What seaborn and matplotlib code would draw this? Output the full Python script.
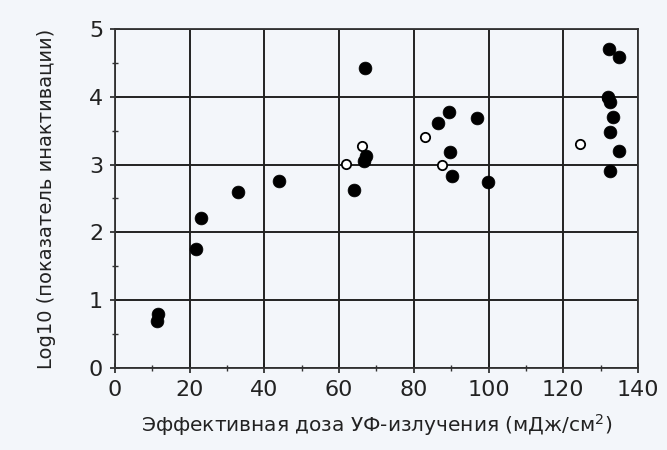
import matplotlib
matplotlib.use("Agg")
import matplotlib.pyplot as plt
import seaborn as sns
import pandas as pd
from matplotlib.ticker import MultipleLocator

# filled points
filled_x = [11.6, 11.3, 21.7, 23.1, 32.9, 43.8, 64.0, 66.8, 67.1, 66.7,
            86.4, 89.5, 89.8, 90.1, 96.8, 99.8,
            132.3, 134.9, 131.9, 132.6, 133.3, 132.5, 134.8, 132.5]
filled_y = [0.79, 0.69, 1.76, 2.21, 2.59, 2.76, 2.62, 4.43, 3.13, 3.05,
            3.62, 3.77, 3.19, 2.83, 3.69, 2.75,
            4.71, 4.59, 3.99, 3.92, 3.70, 3.48, 3.20, 2.91]
# open points
open_x = [61.8, 66.0, 83.1, 87.6, 124.5, 131.6]
open_y = [3.01, 3.27, 3.40, 3.00, 3.31, 3.98]

df_f = pd.DataFrame({"x": filled_x, "y": filled_y})
df_o = pd.DataFrame({"x": open_x, "y": open_y})

sns.set_style("white")
plt.rcParams['font.family'] = ['DejaVu Sans']

fig = plt.figure(figsize=(6.67, 4.5), dpi=100)
bg = "#f3f6fa"
fig.patch.set_facecolor(bg)
ax = fig.add_axes([0.1724, 0.1822, 0.7841, 0.7534])
ax.set_facecolor(bg)

sns.scatterplot(data=df_o, x="x", y="y", ax=ax, s=45, marker="o",
                facecolor="white", edgecolor="black", linewidth=1.3, zorder=3)
sns.scatterplot(data=df_f, x="x", y="y", ax=ax, s=85, marker="o",
                color="black", edgecolor="black", linewidth=0.5, zorder=4)

ax.set_xlim(0, 140)
ax.set_ylim(0, 5)
ax.xaxis.set_major_locator(MultipleLocator(20))
ax.yaxis.set_major_locator(MultipleLocator(1))
ax.xaxis.set_minor_locator(MultipleLocator(10))
ax.yaxis.set_minor_locator(MultipleLocator(0.5))
ax.grid(True, which="major", color="#222222", linewidth=1.4)
ax.set_axisbelow(True)
for sp in ax.spines.values():
    sp.set_color("#333333")
    sp.set_linewidth(1.3)
ax.tick_params(axis="both", which="both", bottom=True, left=True)
ax.tick_params(axis="both", which="major", direction="inout", length=7,
               width=1.2, labelsize=16, colors="#222222", pad=5)
ax.tick_params(axis="both", which="minor", direction="inout", length=5,
               width=1.0, colors="#333333")
ax.set_xlabel("Эффективная доза УФ-излучения (мДж/см$^2$)", fontsize=14.5,
              color="#222222", labelpad=9)
ax.set_ylabel("Log10 (показатель инактивации)", fontsize=14,
              color="#222222", labelpad=24)

fig.savefig("out.png", dpi=100, facecolor=bg)
